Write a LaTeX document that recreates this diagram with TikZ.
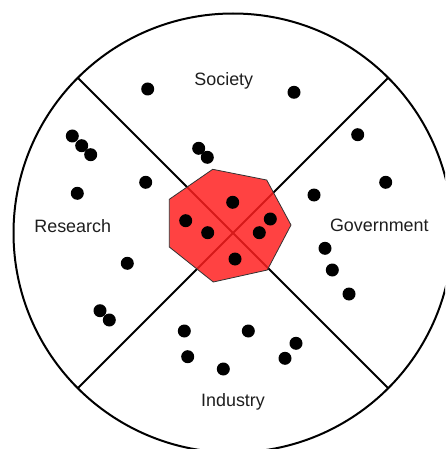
\documentclass[tikz,border=0pt]{standalone}
\usepackage{fontspec}
\setmainfont{Liberation Sans}
\definecolor{hubred}{RGB}{255,30,30}
\definecolor{labelgray}{RGB}{30,30,30}
\begin{document}
\begin{tikzpicture}[x=1pt,y=-1pt,
  dot/.style={fill=black,circle,inner sep=0pt,minimum size=13pt},
  lbl/.style={anchor=base,inner sep=0pt,text=labelgray,font=\fontsize{17.9}{20}\selectfont},
  rim/.style={line width=2pt},
  divider/.style={line width=2pt},
  hub/.style={fill=hubred,fill opacity=0.84,draw=black!80,line width=0.8pt}]
\useasboundingbox (0,0) rectangle (445,449);
\clip (0,0) rectangle (445,449);
\coordinate (c) at (233,233);
\draw[rim] (c) circle[radius=219.5];
\coordinate (ul) at (78,78);
\coordinate (ur) at (388,78);
\coordinate (ll) at (78,388);
\coordinate (lr) at (388,388);
\draw[divider] (ul) -- (lr);
\draw[divider] (ur) -- (ll);
\draw[hub] (212.7,169.3) -- (266.7,180) -- (291,225) -- (267.3,270) -- (213.3,282) -- (169.3,247) -- (169.3,199.3) -- cycle;
% labels
\node[lbl] (society) at (223.8,86) {Society};
\node[lbl] (research) at (72.7,232.7) {Research};
\node[lbl] (government) at (379.3,231.7) {Government};
\node[lbl] (industry) at (233,406) {Industry};
% society dots
\node[dot] (s1) at (147.7,89) {};
\node[dot] (s2) at (294,92.3) {};
\node[dot] (s3) at (198.7,148.3) {};
\node[dot] (s4) at (207.3,157.3) {};
% research dots
\node[dot] (r1) at (72.3,136) {};
\node[dot] (r2) at (81.7,145.7) {};
\node[dot] (r3) at (90.7,154.7) {};
\node[dot] (r4) at (77.3,193.3) {};
\node[dot] (r5) at (145.7,182.3) {};
\node[dot] (r6) at (127.3,263.3) {};
\node[dot] (r7) at (100,310.7) {};
\node[dot] (r8) at (109.3,320) {};
% government dots
\node[dot] (g1) at (357.7,134.7) {};
\node[dot] (g2) at (385.7,182.3) {};
\node[dot] (g3) at (314,195) {};
\node[dot] (g4) at (325,248.3) {};
\node[dot] (g5) at (332.3,270) {};
\node[dot] (g6) at (349,294) {};
% industry dots
\node[dot] (i1) at (184.3,331) {};
\node[dot] (i2) at (248.3,331) {};
\node[dot] (i3) at (187.7,356.7) {};
\node[dot] (i4) at (223.3,369) {};
\node[dot] (i5) at (296,343.3) {};
\node[dot] (i6) at (285,358.3) {};
% center dots
\node[dot] (h1) at (232.7,202.3) {};
\node[dot] (h2) at (185.7,220.7) {};
\node[dot] (h3) at (207.7,232.7) {};
\node[dot] (h4) at (270.3,219) {};
\node[dot] (h5) at (259.3,232.7) {};
\node[dot] (h6) at (235,259) {};
\end{tikzpicture}
\end{document}
